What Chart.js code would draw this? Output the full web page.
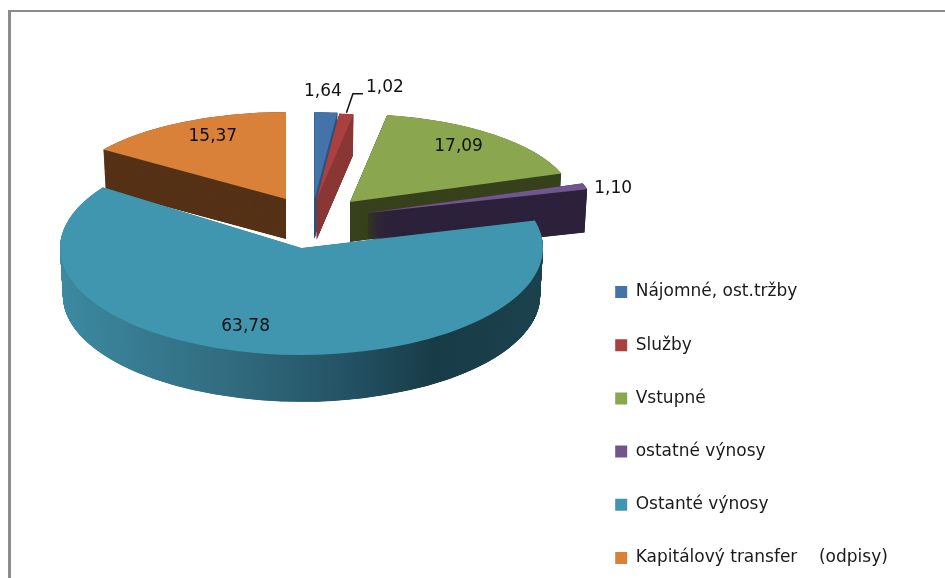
<!DOCTYPE html>
<html>
<head>
<meta charset="utf-8">
<style>
  html, body { margin: 0; padding: 0; background: #fff; }
  #wrap { width: 945px; height: 578px; }
</style>
<script src="https://cdn.jsdelivr.net/npm/chart.js@4"></script>
</head>
<body>
<div id="wrap"><canvas id="pie" width="945" height="578"></canvas></div>
<script>
const categories = ['Nájomné, ost.tržby', 'Služby', 'Vstupné', 'ostatné výnosy', 'Ostanté výnosy', 'Kapitálový transfer    (odpisy)'];
const shares = [1.64, 1.02, 17.09, 1.10, 63.78, 15.37];

const topColors = ['#4373a9', '#a8413f', '#8aa64f', '#71558f', '#3f96ae', '#d98039'];
const sideColors = ['#2e5580', '#8a3836', '#38431d', '#2e233c', null, '#573318'];

// the original is a 3D pie with perspective, so the back slices get their own flatter view
const pieX = 301.5, pieY = 248, pieRadius = 241.5;
const shiftX = [13, 15, 48.5, 65.5, 0, -15.5];
const shiftY = [-49, -48, -46, -35, 0, -49];
const scaleX = [0.92, 0.92, 0.925, 0.944, 1, 0.92];
const scaleY = [0.36, 0.36, 0.365, 0.38, 0.443, 0.36];
const depth = [40, 40, 40, 43, 48, 40];
const drawOrder = [5, 0, 1, 2, 3, 4];

// label nudge from the middle of each slice's rim
const labelDx = [-3, 38.5, -36, 28, -14.5, 30];
const labelDy = [-21, -26, 12, 2, -26.5, 15];

function applyView(ctx, arc, i, down, shrink) {
  ctx.translate(pieX + shiftX[i], pieY + shiftY[i] + down);
  ctx.scale(scaleX[i] * shrink, scaleY[i] * shrink);
  ctx.translate(-arc.x, -arc.y);
}

function rimPoint(arc, i) {
  const mid = (arc.startAngle + arc.endAngle) / 2;
  return {
    x: pieX + shiftX[i] + Math.cos(mid) * arc.outerRadius * scaleX[i],
    y: pieY + shiftY[i] + Math.sin(mid) * arc.outerRadius * scaleY[i]
  };
}

const pie3d = {
  id: 'pie3d',
  beforeDraw(chart) {
    const ctx = chart.ctx;
    ctx.save();
    ctx.fillStyle = '#fff';
    ctx.fillRect(0, 0, chart.width, chart.height);
    ctx.fillStyle = '#8c8c8c';
    ctx.fillRect(8, 10, 3, chart.height - 10);
    ctx.fillRect(8, 10, chart.width - 8, 2);
    ctx.restore();
  },
  afterLayout(chart) {
    chart.legend.left = 579;
    chart.legend.top = 247.3;
    chart.legend.bottom = 900;
  },
  beforeDatasetsDraw(chart) {
    const ctx = chart.ctx;
    const arcs = chart.getDatasetMeta(0).data;
    const tealSide = ctx.createLinearGradient(pieX - pieRadius, 0, pieX + pieRadius, 0);
    tealSide.addColorStop(0, '#3d8ba3');
    tealSide.addColorStop(0.4, '#30697c');
    tealSide.addColorStop(0.62, '#235264');
    tealSide.addColorStop(0.8, '#183c47');
    tealSide.addColorStop(1, '#1b414c');

    drawOrder.forEach(i => {
      const arc = arcs[i];
      const own = arc.options;
      arc.options = Object.assign({}, own, { backgroundColor: sideColors[i] || tealSide });
      // small steps, the thin slices leave gaps with whole pixels
      for (let d = depth[i]; d > 0; d -= 0.25) {
        ctx.save();
        applyView(ctx, arc, i, d, 1 - 0.012 * d / depth[i]);
        arc.draw(ctx);
        ctx.restore();
      }
      arc.options = own;
      ctx.save();
      applyView(ctx, arc, i, 0, 1);
      arc.draw(ctx);
      ctx.restore();
    });
    return false;
  },
  afterDraw(chart) {
    const ctx = chart.ctx;
    const arcs = chart.getDatasetMeta(0).data;
    ctx.save();
    ctx.font = '17px "DejaVu Sans"';
    ctx.fillStyle = '#111';
    ctx.textAlign = 'center';
    ctx.textBaseline = 'middle';
    shares.forEach((v, i) => {
      const p = rimPoint(arcs[i], i);
      ctx.fillText(v.toFixed(2).replace('.', ','), p.x + labelDx[i], p.y + labelDy[i]);
    });
    // leader line of the small Služby slice
    const p = rimPoint(arcs[1], 1);
    const lx = p.x + labelDx[1], ly = p.y + labelDy[1];
    ctx.strokeStyle = '#111';
    ctx.lineWidth = 1.5;
    ctx.beginPath();
    ctx.moveTo(p.x, p.y - 1);
    ctx.lineTo(lx - 32, ly + 6);
    ctx.lineTo(lx - 22, ly + 6);
    ctx.stroke();
    ctx.restore();
  }
};

new Chart(document.getElementById('pie').getContext('2d'), {
  type: 'pie',
  data: {
    labels: categories,
    datasets: [{
      data: shares,
      backgroundColor: topColors,
      borderWidth: 0
    }]
  },
  options: {
    responsive: false,
    animation: false,
    events: [],
    radius: pieRadius,
    plugins: {
      tooltip: { enabled: false },
      legend: {
        position: 'right',
        align: 'start',
        labels: {
          boxWidth: 12,
          boxHeight: 12,
          padding: 36.2,
          color: '#1a1a1a',
          font: { family: '"DejaVu Sans"', size: 17 }
        }
      }
    }
  },
  plugins: [pie3d]
});
</script>
</body>
</html>
